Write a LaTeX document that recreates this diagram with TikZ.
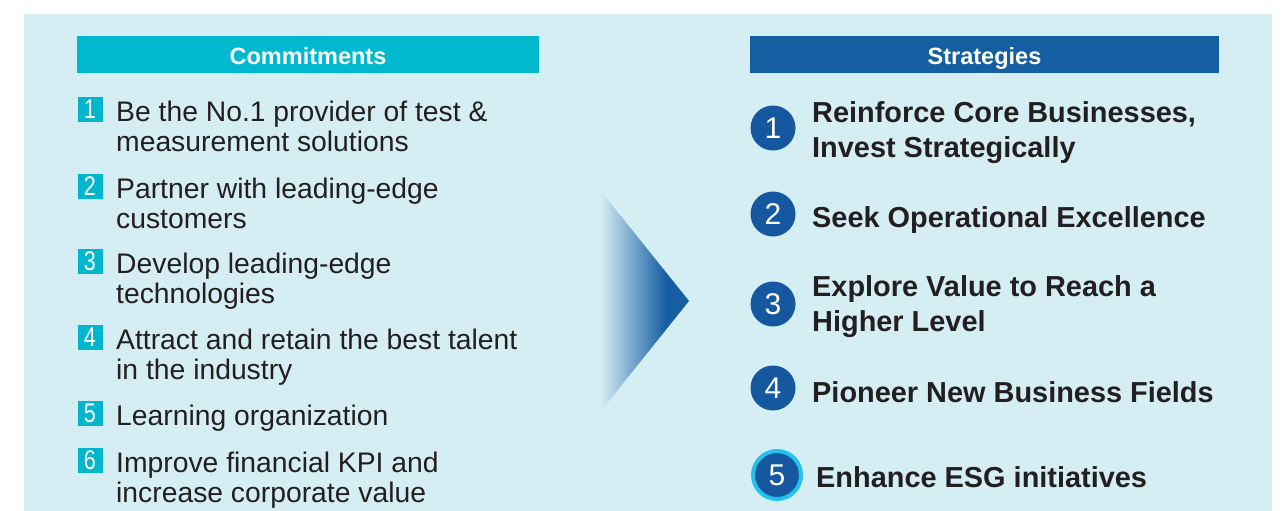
\documentclass[tikz,border=0pt]{standalone}
\usepackage{fontspec}
\setmainfont{Liberation Sans}
\newfontfamily\sqnumfont[FakeStretch=0.8]{Liberation Sans}

\definecolor{panelbg}{HTML}{D5EEF4}
\definecolor{barcyan}{HTML}{00B9CE}
\definecolor{barblue}{HTML}{155EA2}
\definecolor{sqcyan}{HTML}{00B6CD}
\definecolor{circblue}{HTML}{1558A0}
\definecolor{ringcyan}{HTML}{22C1EE}
\definecolor{inkblack}{HTML}{231F20}

\pgfdeclarehorizontalshading{arrowfade}{100bp}{color(0bp)=(panelbg); color(25bp)=(panelbg); color(62bp)=(barblue); color(100bp)=(barblue)}

\begin{document}
\begin{tikzpicture}[
    x=1pt, y=-1pt,
    every node/.style={inner sep=0pt, text=inkblack},
    headbar/.style={minimum height=37pt, text height=20pt, text depth=0pt, text=white, font=\fontsize{23.5}{26}\selectfont\bfseries},
    numsq/.style={fill=sqcyan, minimum size=25pt, text=white, font=\sqnumfont\fontsize{27}{27}\selectfont},
    numcirc/.style={circle, fill=circblue, minimum size=45pt, text=white, font=\fontsize{30}{30}\selectfont},
    commit/.style={anchor=base west, align=left, font=\fontsize{28.3}{30}\selectfont},
    strat/.style={anchor=base west, align=left, font=\fontsize{28.9}{35}\selectfont\bfseries},
]
\useasboundingbox (0,0) rectangle (1287,511);

% === Panel ===
\fill[panelbg] (24,14) rectangle (1272,511);

% === Headers ===
\node[headbar, fill=barcyan, minimum width=462pt] (commhead) at (308,54.5) {Commitments};
\node[headbar, fill=barblue, minimum width=469pt] (strathead) at (984.5,54.5) {Strategies};

% === Commitments (left), anchored on the last line ===
\node[numsq] (sq1) at (90,109.5) {1};
\node[commit] (c1) at (116,151) {Be the No.1 provider of test \&\\measurement solutions};

\node[numsq] (sq2) at (90,186.5) {2};
\node[commit] (c2) at (116,228) {Partner with leading-edge\\customers};

\node[numsq] (sq3) at (90,261.5) {3};
\node[commit] (c3) at (116,303) {Develop leading-edge\\technologies};

\node[numsq] (sq4) at (90,337.5) {4};
\node[commit] (c4) at (116,379) {Attract and retain the best talent\\in the industry};

\node[numsq] (sq5) at (90,413.5) {5};
\node[commit] (c5) at (116,425) {Learning organization};

\node[numsq] (sq6) at (90,460.5) {6};
\node[commit] (c6) at (116,502) {Improve financial KPI and\\increase corporate value};

% === Arrow ===
\shade[shading=arrowfade] (600,190) -- (689,301) -- (600,412) -- cycle;

% === Strategies (right) ===
\node[numcirc] (s1) at (773,128) {1};
\node[strat] (st1) at (812,157) {Reinforce Core Businesses,\\Invest Strategically};

\node[numcirc] (s2) at (773,214) {2};
\node[strat] (st2) at (812,227) {Seek Operational Excellence};

\node[numcirc] (s3) at (773,304) {3};
\node[strat] (st3) at (812,331) {Explore Value to Reach a\\Higher Level};

\node[numcirc] (s4) at (773,388) {4};
\node[strat] (st4) at (812,402) {Pioneer New Business Fields};

\node[numcirc, draw=ringcyan, line width=4pt, minimum size=48pt] (s5) at (777,475) {5};
\node[strat] (st5) at (816,487) {Enhance ESG initiatives};

\end{tikzpicture}
\end{document}
